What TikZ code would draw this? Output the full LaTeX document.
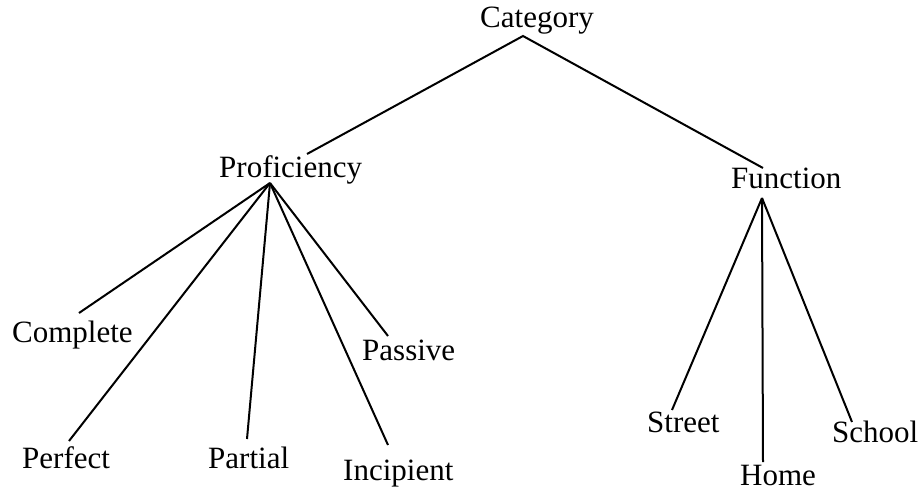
\documentclass[tikz,border=0pt]{standalone}
\usepackage{fontspec}
\setmainfont{Liberation Serif}
\begin{document}
\begin{tikzpicture}[x=1pt,y=-1pt,
  lbl/.style={anchor=base west,inner sep=0pt,font=\fontsize{31}{31}\selectfont},
  edge/.style={line width=2pt}]
\useasboundingbox (0,0) rectangle (924,495);
% labels
\node[lbl] (cat)  at (480,28)  {Category};
\node[lbl] (prof) at (219,177) {Proficiency};
\node[lbl] (func) at (731,188) {Function};
\node[lbl] (comp) at (12,342)  {Complete};
\node[lbl] (perf) at (22,468)  {Perfect};
\node[lbl] (part) at (208,468) {Partial};
\node[lbl] (inci) at (343,480) {Incipient};
\node[lbl] (pass) at (362,360) {Passive};
\node[lbl] (str)  at (647,432) {Street};
\node[lbl] (home) at (740,485) {Home};
\node[lbl] (sch)  at (832,442) {School};
% branch points
\coordinate (catR)  at (523,36);
\coordinate (profT) at (307,154);
\coordinate (funcT) at (763,168);
\coordinate (profR) at (270,183);
\coordinate (funcR) at (762,198);
\coordinate (compE) at (79,313);
\coordinate (perfE) at (69,441);
\coordinate (partE) at (247,439);
\coordinate (inciE) at (388,445);
\coordinate (passE) at (388,336);
\coordinate (strE)  at (672,410);
\coordinate (homeE) at (763,462);
\coordinate (schE)  at (852,422);
% edges
\draw[edge] (profT) -- (catR) -- (funcT);
\foreach \e in {compE,perfE,partE,inciE,passE}
  \draw[edge] (profR) -- (\e);
\foreach \e in {strE,homeE,schE}
  \draw[edge] (funcR) -- (\e);
\end{tikzpicture}
\end{document}
